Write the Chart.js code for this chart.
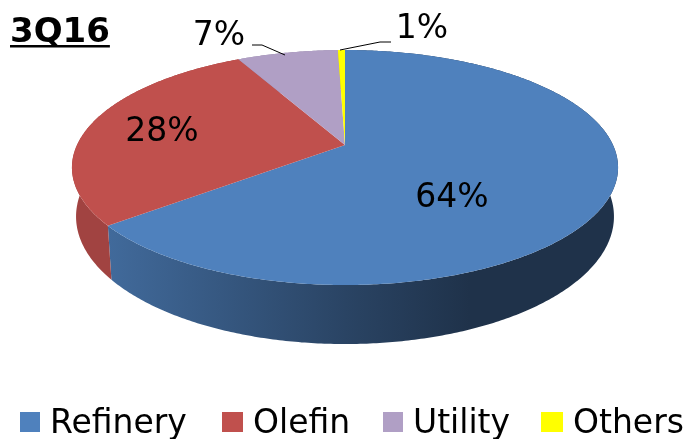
<!DOCTYPE html>
<html>
<head>
<meta charset="utf-8">
<style>html,body{margin:0;padding:0;background:#fff}canvas{display:block}</style>
<script src="https://cdn.jsdelivr.net/npm/chart.js@4/dist/chart.umd.min.js"></script>
</head>
<body>
<canvas id="c" width="684" height="439"></canvas>
<script>
const categories = ['Refinery', 'Olefin', 'Utility', 'Others'];
const values = [64.2, 28.1, 7.2, 0.5];
const colors = ['#4F81BD', '#C0504D', '#B09FC5', '#FFFF00'];
const chartTitle = '3Q16';

const FONT = '"DejaVu Sans"';
const labelPos = [[452, 198], [162, 132], [219, 36], [422, 29]];
const leaders = [null, null, [[252, 45], [262, 45], [285, 55]], [[340, 50], [380, 42], [391, 42]]];
const legendX = [20, 222, 383, 541];
const legendBox = [20, 21, 20, 22];

// perspective projection of the pie disc
const K = 0.1915, RX = 268 / 145, RY = 113.2 / 145;
function proj(el, a, bottom) {
  const u = Math.cos(a), v = Math.sin(a), w = 1 - K * v;
  const r = el.outerRadius;
  let x = el.x + RX * r * u / w, y = el.y + RY * r * v / w;
  if (bottom) {
    x = el.x + (x - el.x) * 0.985;
    y = 216 + (y - 167) * 1.085;
  }
  return [x, y];
}
function shade(hex, f) {
  const n = parseInt(hex.slice(1), 16);
  return `rgb(${Math.round((n >> 16) * f)},${Math.round(((n >> 8) & 255) * f)},${Math.round((n & 255) * f)})`;
}
function rimPath(ctx, el, bottom, rev) {
  const n = Math.max(4, Math.ceil((el.endAngle - el.startAngle) / 0.01));
  for (let i = 0; i <= n; i++) {
    const t = rev ? 1 - i / n : i / n;
    const p = proj(el, el.startAngle + (el.endAngle - el.startAngle) * t, bottom);
    ctx.lineTo(p[0], p[1]);
  }
}
const pie3d = {
  id: 'pie3d',
  beforeDatasetDraw(chart) {
    const ctx = chart.ctx, els = chart.getDatasetMeta(0).data;
    ctx.save();
    els.forEach((el, i) => {
      const g = ctx.createLinearGradient(108, 0, 618, 0);
      if (i === 0) {
        g.addColorStop(0, shade(colors[i], 0.82));
        g.addColorStop(0.465, shade(colors[i], 0.53));
        g.addColorStop(0.71, shade(colors[i], 0.39));
        g.addColorStop(1, shade(colors[i], 0.39));
      } else {
        g.addColorStop(0, shade(colors[i], 0.84));
        g.addColorStop(1, shade(colors[i], 0.84));
      }
      ctx.fillStyle = g;
      ctx.beginPath();
      rimPath(ctx, el, false, false);
      rimPath(ctx, el, true, true);
      ctx.closePath();
      ctx.fill();
    });
    els.forEach((el, i) => {
      ctx.fillStyle = colors[i];
      ctx.beginPath();
      ctx.moveTo(el.x, el.y);
      rimPath(ctx, el, false, false);
      ctx.closePath();
      ctx.fill();
    });
    ctx.restore();
    return false;
  },
  afterDraw(chart) {
    const ctx = chart.ctx;
    ctx.save();
    ctx.fillStyle = '#000';
    // data labels
    ctx.font = '33px ' + FONT;
    ctx.textAlign = 'center';
    ctx.textBaseline = 'middle';
    values.forEach((v, i) => {
      ctx.fillText(Math.round(v) + '%', labelPos[i][0], labelPos[i][1]);
    });
    // leader lines
    ctx.strokeStyle = '#000';
    ctx.lineWidth = 1;
    leaders.forEach(l => {
      if (!l) return;
      ctx.beginPath();
      l.forEach((p, j) => j ? ctx.lineTo(p[0], p[1]) : ctx.moveTo(p[0], p[1]));
      ctx.stroke();
    });
    // title
    ctx.textAlign = 'left';
    ctx.textBaseline = 'alphabetic';
    ctx.font = 'bold 34px ' + FONT;
    ctx.fillText(chartTitle, 10, 42);
    ctx.fillRect(10, 45, ctx.measureText(chartTitle).width, 2.5);
    // legend
    ctx.font = '33px ' + FONT;
    categories.forEach((c, i) => {
      ctx.fillStyle = colors[i];
      ctx.fillRect(legendX[i], 412, legendBox[i], 20);
      ctx.fillStyle = '#000';
      ctx.fillText(c, legendX[i] + legendBox[i] + 10, 433);
    });
    ctx.restore();
  }
};
new Chart(document.getElementById('c'), {
  type: 'pie',
  data: { labels: categories, datasets: [{ data: values, backgroundColor: colors, borderWidth: 0 }] },
  plugins: [pie3d],
  options: {
    responsive: false,
    animation: false,
    layout: { padding: { left: 6, right: 0, top: 0, bottom: 149 } },
    plugins: { legend: { display: false }, tooltip: { enabled: false }, title: { display: false } }
  }
});
</script>
</body>
</html>
